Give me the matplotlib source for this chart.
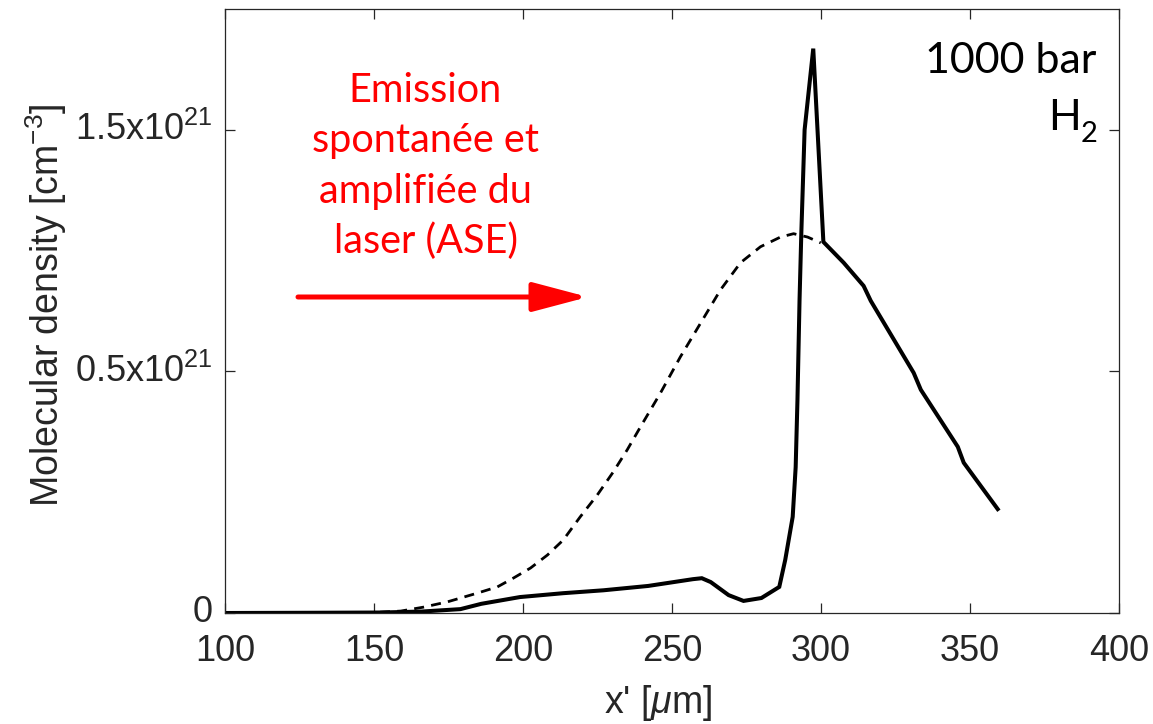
import matplotlib
matplotlib.use("Agg")
import matplotlib.pyplot as plt

# ---------------- data ----------------
x_solid = [100, 130, 152, 166, 179, 186, 199, 213.5, 227, 242, 257, 260, 263, 269, 274,
           280, 286, 288, 290.5, 291.5, 292.1, 292.8, 293.4, 294.5, 297.4, 300.8, 307.6,
           314.3, 316.7, 331.1, 333.5, 345.9, 347.9, 359.3]
y_solid = [0.0, 0.0005, 0.001, 0.003, 0.008, 0.019, 0.033, 0.041, 0.047, 0.056, 0.070,
           0.072, 0.064, 0.037, 0.025, 0.031, 0.054, 0.110, 0.199, 0.302, 0.441, 0.648,
           0.787, 1.000, 1.168, 0.768, 0.725, 0.677, 0.646, 0.497, 0.462, 0.344, 0.311,
           0.215]

x_dash = [100, 130, 150, 159, 166.5, 174.6, 184.6, 191.4, 196.7, 202.5, 208.2, 213.5,
          219.2, 224.9, 230.3, 235.0, 239.4, 246.1, 252.8, 259.6, 266.3, 273.0, 279.7,
          286.4, 290.8, 295.5, 299.9]
y_dash = [0.0, 0.0, 0.001, 0.004, 0.012, 0.023, 0.041, 0.054, 0.072, 0.093, 0.120, 0.151,
          0.199, 0.244, 0.292, 0.338, 0.385, 0.455, 0.530, 0.600, 0.669, 0.725, 0.758,
          0.778, 0.785, 0.778, 0.766]

x_ticks = [100, 150, 200, 250, 300, 350, 400]
y_ticks = [0, 0.5, 1.0]
y_tick_labels = ["0", r"0.5x10$^{21}$", r"1.5x10$^{21}$"]

ann_lines = ["Emission", "spontanée et", "amplifiée du", "laser (ASE)"]

# ---------------- fonts ----------------
tick_font = "Liberation Sans"
plt.rcParams["font.family"] = [tick_font, "DejaVu Sans"]
plt.rcParams["mathtext.fontset"] = "custom"
plt.rcParams["mathtext.rm"] = tick_font
plt.rcParams["mathtext.it"] = tick_font + ":italic"
plt.rcParams["mathtext.bf"] = tick_font + ":bold"

W, H = 1153, 724
fig = plt.figure(figsize=(W / 100, H / 100), dpi=100)

def fx(px):
    return px / W

def fy(py):
    return 1 - py / H

L, R, T, B = 225, 1119, 9, 613
ax = fig.add_axes([fx(L), fy(B), fx(R) - fx(L), fy(T) - fy(B)])

ax.plot(x_dash, y_dash, color="black", lw=2.0, linestyle=(0, (3.6, 2.6)))
ax.plot(x_solid, y_solid, color="black", lw=2.9, solid_joinstyle="miter")

ax.set_xlim(100, 400)
ax.set_ylim(0, 1.25)
ax.set_xticks(x_ticks)
ax.set_xticklabels([str(v) for v in x_ticks])
ax.set_yticks(y_ticks)
ax.set_yticklabels(y_tick_labels)
for lab in ax.get_yticklabels():
    lab.set_verticalalignment("center")

axc = "#262626"
for s in ax.spines.values():
    s.set_color(axc)
    s.set_linewidth(0.9)
ax.tick_params(axis="both", which="both", direction="in", top=True, right=True,
               length=7, width=0.9, color=axc, labelcolor=axc, labelsize=26)
ax.tick_params(axis="x", pad=15)
ax.tick_params(axis="y", pad=9)

# axis labels
fig.text(fx(658), fy(713), r"x' [$\mu$m]", ha="center", va="baseline",
         fontsize=27, color=axc)
fig.text(fx(46), fy(305), r"Molecular density [cm$^{-3}$]", ha="center", va="center",
         rotation=90, fontsize=27, color=axc)

# red annotation
red_font = ["Lato", "DejaVu Sans"]
baselines = [102, 152, 203, 253]
for line, by in zip(ann_lines, baselines):
    fig.text(fx(425.5), fy(by), line, ha="center", va="baseline", fontsize=28.5,
             color="red", family=red_font)

ax.annotate("", xy=(fx(588), fy(297)), xytext=(fx(298), fy(297)),
            xycoords="figure fraction", textcoords="figure fraction",
            arrowprops=dict(arrowstyle="-|>,head_length=3.4,head_width=0.9",
                            mutation_scale=10, color="red", lw=3.6,
                            shrinkA=0, shrinkB=0))

# black label
fig.text(fx(1096), fy(73), "1000 bar", ha="right", va="baseline", fontsize=31,
         color="black", family=red_font)
fig.text(fx(1081), fy(130), "H", ha="right", va="baseline", fontsize=31,
         color="black", family=red_font)
fig.text(fx(1097), fy(142), "2", ha="right", va="baseline", fontsize=21,
         color="black", family=red_font)

fig.savefig("out.png", dpi=100)
